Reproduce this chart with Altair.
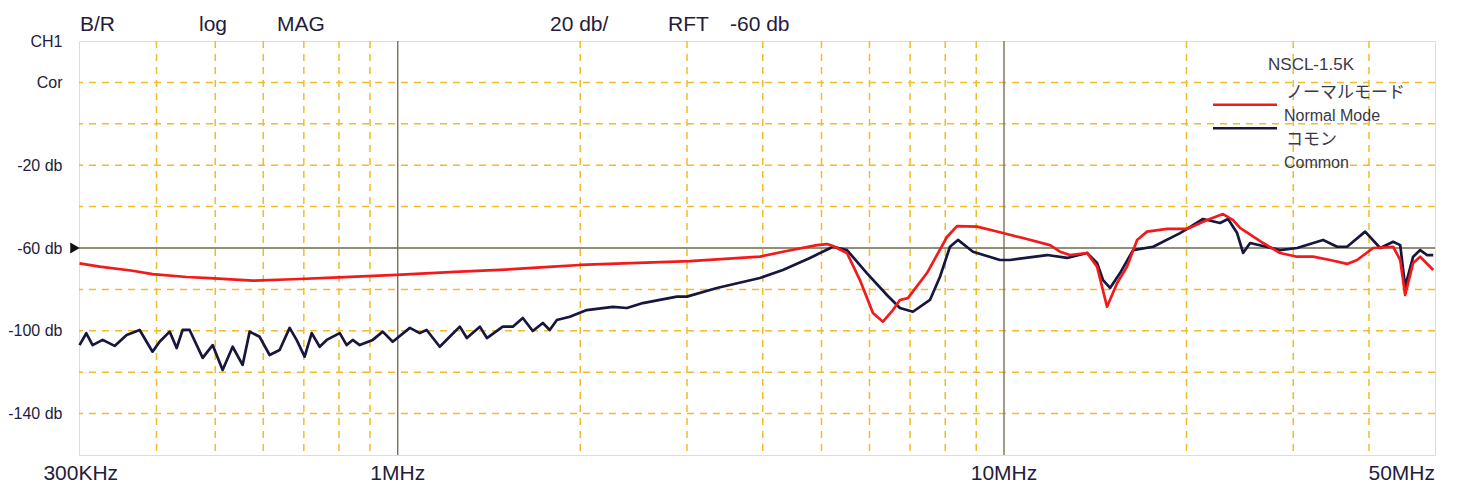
import altair as alt
import pandas as pd

# ---- data (frequency in MHz, level in dB) ----
red_freq_mhz = [0.2986, 0.3224, 0.3653, 0.394, 0.4485, 0.4895, 0.5764, 0.6711, 0.7813, 0.996,
                1.266, 1.473, 1.803, 1.997, 3.032, 3.957, 4.318, 4.914, 5.105, 5.223,
                5.508, 5.786, 6.079, 6.314, 6.558, 6.736, 6.943, 7.464, 8.053, 8.365,
                9.025, 9.849, 10.75, 11.91, 12.37, 12.85, 13.71, 14.24, 14.79, 15.37,
                15.96, 16.58, 17.22, 18.58, 20.04, 21.63, 22.98, 23.87, 24.51, 26.76,
                28.54, 30.44, 32.35, 34.51, 36.81, 38.24, 40.64, 43.85, 45.04, 45.89,
                47.31, 48.59, 51.06]
red_db = [-67.4, -69.0, -71.0, -72.6, -74.0, -74.6, -75.8, -75.1, -74.3, -73.0,
          -71.4, -70.6, -69.0, -68.2, -66.3, -64.2, -61.8, -58.6, -58.1, -59.0,
          -62.4, -75.5, -91.4, -95.6, -90.0, -85.1, -84.2, -72.1, -54.7, -49.4,
          -49.7, -52.4, -55.2, -58.6, -61.8, -63.4, -62.4, -69.0, -88.4, -76.9,
          -69.0, -56.1, -52.1, -50.8, -50.8, -46.5, -43.6, -46.5, -50.3, -57.6,
          -62.4, -64.2, -64.2, -65.8, -67.7, -65.8, -60.0, -59.4, -65.8, -82.7,
          -67.2, -64.2, -70.6]

com_freq_mhz = [0.2986, 0.3064, 0.3138, 0.326, 0.3412, 0.3571, 0.3752, 0.394, 0.4047, 0.4205,
                0.4318, 0.4417, 0.4536, 0.4767, 0.4951, 0.5142, 0.5341, 0.5547, 0.5698, 0.5918,
                0.6147, 0.6385, 0.6632, 0.681, 0.7021, 0.7212, 0.7434, 0.7635, 0.8022, 0.8237,
                0.8427, 0.8656, 0.9094, 0.9446, 0.9811, 1.047, 1.087, 1.116, 1.173, 1.218,
                1.266, 1.300, 1.366, 1.403, 1.490, 1.548, 1.608, 1.670, 1.735, 1.781,
                1.830, 1.922, 2.050, 2.264, 2.388, 2.537, 2.887, 2.999, 3.361, 3.957,
                4.318, 4.785, 5.223, 5.508, 5.940, 6.411, 6.736, 7.076, 7.549, 7.842,
                8.145, 8.396, 8.888, 9.849, 10.23, 11.78, 12.71, 13.71, 14.24, 14.57,
                14.96, 15.54, 16.33, 17.62, 19.52, 21.30, 22.72, 23.42, 24.24, 24.80,
                25.47, 28.54, 30.44, 33.60, 35.44, 36.81, 39.42, 41.74, 43.85, 45.04,
                45.89, 47.31, 48.59, 49.89, 51.06]
com_db = [-106.9, -101.2, -106.9, -104.4, -107.3, -102.0, -99.6, -110.1, -105.3, -100.4,
          -108.3, -99.6, -99.6, -113.1, -106.9, -118.9, -107.7, -116.5, -100.4, -102.9,
          -111.7, -109.3, -98.6, -104.4, -112.5, -101.1, -107.7, -104.4, -101.1, -106.9,
          -104.4, -106.9, -104.4, -100.4, -105.3, -98.6, -101.1, -99.6, -107.7, -102.9,
          -98.0, -103.5, -98.0, -103.5, -98.0, -98.0, -93.8, -100.1, -96.2, -99.6,
          -94.8, -93.2, -90.0, -88.4, -89.0, -86.6, -83.5, -83.5, -79.3, -74.5,
          -70.6, -64.8, -59.4, -61.0, -72.1, -82.7, -89.0, -90.8, -85.1, -73.9,
          -59.4, -56.1, -61.8, -65.8, -65.8, -63.4, -64.8, -62.4, -67.2, -75.5,
          -79.3, -72.1, -61.0, -59.4, -52.8, -46.0, -47.9, -46.0, -52.8, -62.4,
          -57.6, -61.0, -60.0, -56.1, -59.4, -59.4, -52.1, -60.0, -57.0, -58.6,
          -78.7, -64.2, -61.0, -63.4, -63.4]

grid_dash_freq_mhz = [0.4, 0.5, 0.6, 0.7, 0.8, 0.9, 2, 3, 4, 5, 6, 7, 8, 9, 20, 30, 40]
grid_solid_freq_mhz = [1, 10]
grid_dash_db = [20, 0, -20, -40, -80, -100, -120, -140]
grid_solid_db = [-60]
y_tick_values = [40, 20, -20, -60, -100, -140]
x_label_freq_mhz = [0.3, 1, 10]
x_label_text = ["300KHz", "1MHz", "10MHz"]
x_end_label_freq_mhz = [51.4]
x_end_label_text = ["50MHz"]
header_text = ["B/R", "log", "MAG", "20 db/", "RFT", "-60 db"]
series_names = ["コモン", "ノーマルモード"]

# ---- styling ----
W, H = 1356, 414
BG = "#fddcb8"
RED = "#f21a1a"
NAVY = "#17163f"
GRID = "#f2bb2a"
SOLID = "#6f6848"
TXT = "#241c3c"

xscale = alt.Scale(type="log", domain=[0.298, 51.4], nice=False)
yscale = alt.Scale(domain=[-160, 40], nice=False, zero=False)

rows = []
for i, (f, d) in enumerate(zip(com_freq_mhz, com_db)):
    rows.append({"f": f, "db": d, "series": series_names[0], "i": i})
for i, (f, d) in enumerate(zip(red_freq_mhz, red_db)):
    rows.append({"f": f, "db": d, "series": series_names[1], "i": i})
curves_df = pd.DataFrame(rows)

yaxis = alt.Axis(values=y_tick_values,
                 labelExpr="datum.value == 40 ? 'CH1' : datum.value == 20 ? 'Cor' : datum.value + ' db'",
                 grid=False, ticks=False, domain=False, labelPadding=17,
                 labelFontSize=16, labelColor=TXT, labelFont="Liberation Sans", title=None)

vdash = alt.Chart(pd.DataFrame({"f": grid_dash_freq_mhz})).mark_rule(
    color=GRID, strokeWidth=1.5, strokeDash=[7, 6]).encode(
    x=alt.X("f:Q", scale=xscale, axis=None))
hdash = alt.Chart(pd.DataFrame({"db": grid_dash_db})).mark_rule(
    color=GRID, strokeWidth=1.5, strokeDash=[7, 6]).encode(
    y=alt.Y("db:Q", scale=yscale, axis=yaxis))
vsolid = alt.Chart(pd.DataFrame({"f": grid_solid_freq_mhz})).mark_rule(
    color=SOLID, strokeWidth=1.3).encode(x=alt.X("f:Q", scale=xscale, axis=None))
hsolid = alt.Chart(pd.DataFrame({"db": grid_solid_db})).mark_rule(
    color=SOLID, strokeWidth=1.3).encode(y=alt.Y("db:Q", scale=yscale, axis=None))

curves = alt.Chart(curves_df).mark_line(strokeWidth=2.7, strokeJoin="round").encode(
    x=alt.X("f:Q", scale=xscale, axis=None),
    y=alt.Y("db:Q", scale=yscale, axis=None),
    color=alt.Color("series:N", scale=alt.Scale(domain=series_names, range=[NAVY, RED]), legend=None),
    detail="series:N",
    order="i:Q",
)

marker = alt.Chart(pd.DataFrame({"db": grid_solid_db})).mark_point(
    shape="triangle-right", filled=True, color="#111111", size=120, opacity=1).encode(
    x=alt.value(-4), y=alt.Y("db:Q", scale=yscale, axis=None))

xlab = alt.Chart(pd.DataFrame({"f": x_label_freq_mhz, "t": x_label_text})).mark_text(
    fontSize=21, color=TXT, align="center", baseline="alphabetic", font="Liberation Sans").encode(
    x=alt.X("f:Q", scale=xscale, axis=None), y=alt.value(H + 25), text="t:N")
xlab_end = alt.Chart(pd.DataFrame({"f": x_end_label_freq_mhz, "t": x_end_label_text})).mark_text(
    fontSize=21, color=TXT, align="right", baseline="alphabetic", font="Liberation Sans").encode(
    x=alt.X("f:Q", scale=xscale, axis=None), y=alt.value(H + 25), text="t:N")

header_x = [1, 120, 198, 471, 589, 651]
headers = [
    alt.Chart(pd.DataFrame({"t": [t]})).mark_text(
        fontSize=21, color=TXT, align="left", baseline="alphabetic", font="Liberation Sans").encode(
        x=alt.value(hx), y=alt.value(-10), text="t:N")
    for t, hx in zip(header_text, header_x)
]

# legend (drawn inside the plot, top right)
leg_rules = alt.Chart(pd.DataFrame({"s": series_names})).mark_rule(strokeWidth=2.7).encode(
    x=alt.value(1134), x2=alt.value(1198),
    y=alt.Y("s:N", scale=alt.Scale(domain=series_names[::-1], range=[52, 99]), axis=None),
    color=alt.Color("s:N", scale=alt.Scale(domain=series_names, range=[NAVY, RED]), legend=None),
)
leg_texts = []
for t, lx, ly, fnt, fs in [
    ("NSCL-1.5K", 1232, 24, "Liberation Sans", 17),
    ("ノーマルモード", 1207, 52, "Noto Sans CJK JP", 17),
    ("Normal Mode", 1205, 75, "Liberation Sans", 16),
    ("コモン", 1207, 99, "Noto Sans CJK JP", 17),
    ("Common", 1205, 122, "Liberation Sans", 16),
]:
    leg_texts.append(
        alt.Chart(pd.DataFrame({"t": [t]})).mark_text(
            fontSize=fs, color="#3a3848", align="center" if t == "NSCL-1.5K" else "left",
            baseline="middle", font=fnt).encode(
            x=alt.value(lx), y=alt.value(ly), text="t:N"))

chart = alt.layer(
    hdash, vdash, vsolid, hsolid, curves, marker, xlab, xlab_end, leg_rules, *headers, *leg_texts
).resolve_scale(y="shared").properties(
    width=W, height=H,
    autosize=alt.AutoSizeParams(type="none"),
    padding={"left": 71, "top": 33, "right": 14, "bottom": 32},
    background="white",
).configure_view(
    fill=BG, stroke="#2a2258", strokeWidth=2.2
).configure(font="Liberation Sans")

chart.save("out.html", embed_options={"renderer": "svg", "actions": False})
